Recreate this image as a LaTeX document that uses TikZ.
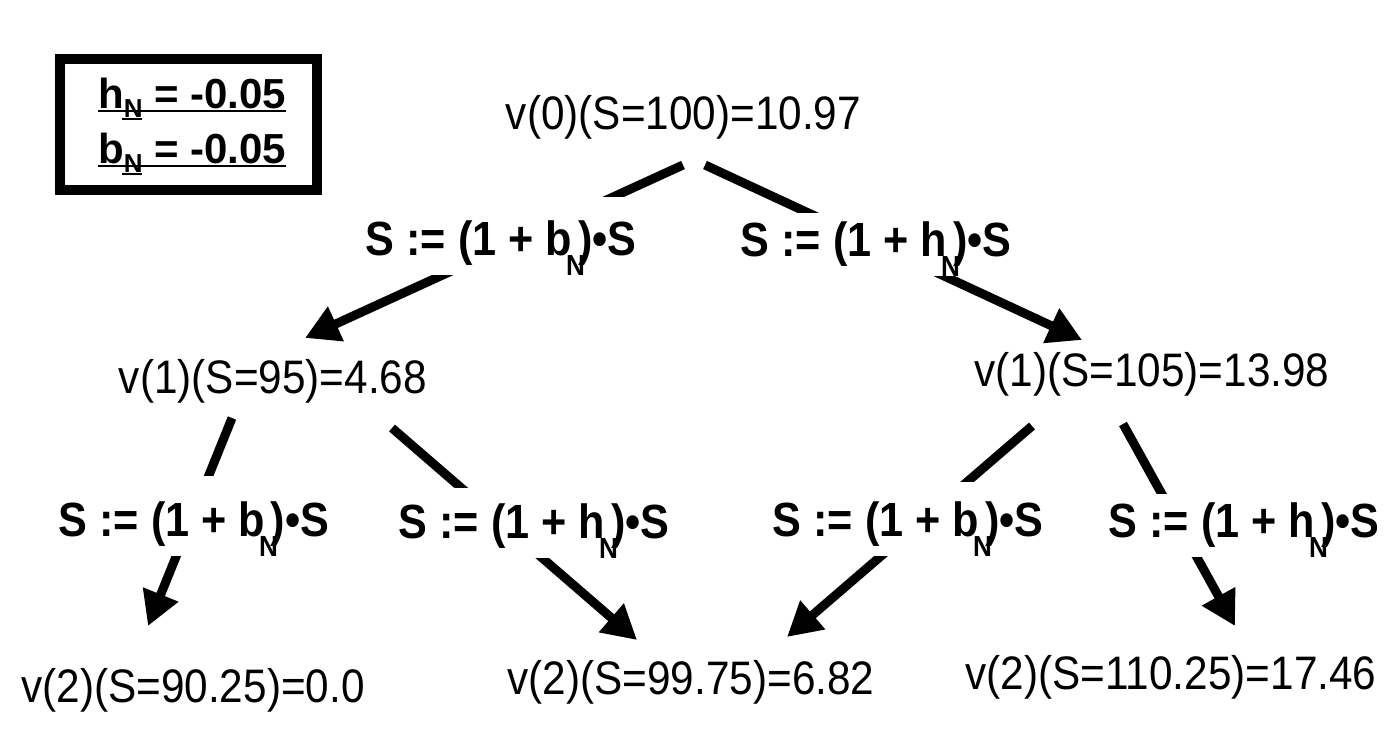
\documentclass[tikz,border=0pt]{standalone}
\usepackage{fontspec}
\setmainfont{Liberation Sans}[FakeStretch=0.9]
\newfontfamily\boxfont{Liberation Sans}
\usetikzlibrary{arrows.meta,calc}
\newcommand{\subN}{\kern-6pt\raisebox{-20pt}{\fontsize{29}{29}\selectfont N}\kern-7pt}
\newcommand{\boxN}{\raisebox{-9pt}{\fontsize{26}{26}\selectfont N}}
\begin{document}
\begin{tikzpicture}[x=1pt,y=-1pt,
  val/.style={anchor=base, inner sep=0pt, font=\fontsize{47}{50}\selectfont},
  op/.style={anchor=base, inner sep=0pt, inner xsep=6pt, fill=white, text height=50pt, text depth=20pt, font=\fontsize{48}{52}\selectfont\bfseries},
  arr/.style={line width=9pt, -{Triangle[length=34pt,width=36pt]}},
  param/.style={anchor=base west, inner sep=0pt, font=\boxfont\fontsize{42}{44}\selectfont\bfseries},
  uline/.style={line width=2.5pt}]
\useasboundingbox (0,0) rectangle (1388,750);
% parameter box
\node[draw, line width=10pt, minimum width=257pt, minimum height=131pt, inner sep=0pt] (pbox) at (188.5,124.5) {};
\node[param] (ph) at (98,108) {h\boxN{} = -0.05};
\node[param] (pb) at (98,163) {b\boxN{} = -0.05};
\draw[uline] ($(ph.base west)+(0,3)$) -- ($(ph.base east)+(0,3)$);
\draw[uline] ($(ph.base west)+(24,11)$) -- ++(20,0);
\draw[uline] ($(pb.base west)+(0,3)$) -- ($(pb.base east)+(0,3)$);
\draw[uline] ($(pb.base west)+(24,11)$) -- ++(20,0);
% values
\node[val] (v0) at (683.5,129) {v(0)(S=100)=10.97};
\node[val] (v1a) at (273,393) {v(1)(S=95)=4.68};
\node[val] (v1b) at (1152,386) {v(1)(S=105)=13.98};
\node[val] (v2a) at (193,702) {v(2)(S=90.25)=0.0};
\node[val] (v2b) at (691,694) {v(2)(S=99.75)=6.82};
\node[val] (v2c) at (1171,689) {v(2)(S=110.25)=17.46};
% connector ends
\coordinate (v0l) at (683,165);
\coordinate (v0r) at (705,165);
\coordinate (v1al) at (232,418);
\coordinate (v1ar) at (392,428);
\coordinate (v1bl) at (1032,426);
\coordinate (v1br) at (1123,424);
\coordinate (v1ain) at (305,338);
\coordinate (v1bin) at (1082,340);
\coordinate (v2ain) at (148,626);
\coordinate (v2binl) at (637,640);
\coordinate (v2binr) at (787,637);
\coordinate (v2cin) at (1235,626);
\draw[arr] (v0l) -- (v1ain);
\draw[arr] (v0r) -- (v1bin);
\draw[arr] (v1al) -- (v2ain);
\draw[arr] (v1ar) -- (v2binl);
\draw[arr] (v1bl) -- (v2binr);
\draw[arr] (v1br) -- (v2cin);
% operation labels
\node[op, text height=58pt] (o1) at (501,255) {S := (1 + b\subN)•S};
\node[op, text height=43pt] (o2) at (876,256) {S := (1 + h\subN)•S};
\node[op, text height=60pt] (o3) at (194,536) {S := (1 + b\subN)•S};
\node[op] (o4) at (534,538) {S := (1 + h\subN)•S};
\node[op, text height=54pt] (o5) at (908,536) {S := (1 + b\subN)•S};
\node[op, text height=43pt] (o6) at (1244,537) {S := (1 + h\subN)•S};
\end{tikzpicture}
\end{document}
